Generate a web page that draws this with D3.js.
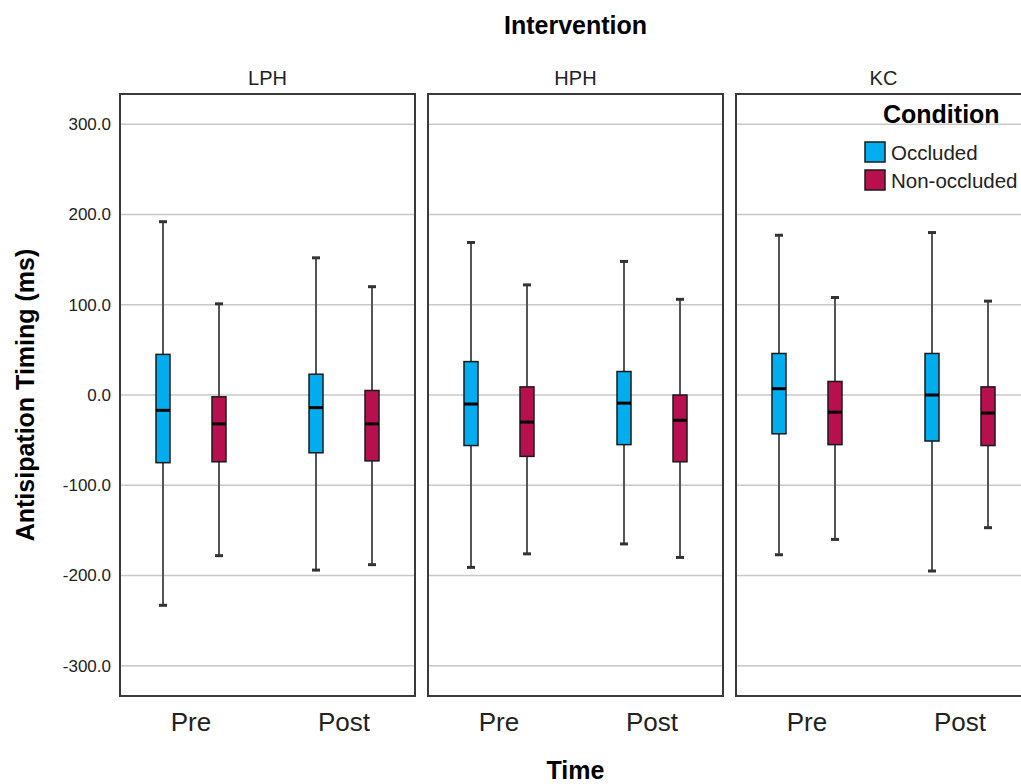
<!DOCTYPE html>
<html>
<head>
<meta charset="utf-8">
<script src="https://cdn.jsdelivr.net/npm/d3@7"></script>
<style>
  body { margin: 0; background: #fff; }
  svg { font-family: "Liberation Sans", Arial, sans-serif; }
</style>
</head>
<body>
<svg id="chart" width="1021" height="784"></svg>
<script>
// Facets, groups and series
const interventions = ["LPH", "HPH", "KC"];
const times = ["Pre", "Post"];
const conditions = ["Occluded", "Non-occluded"];
const yTicks = [-300, -200, -100, 0, 100, 200, 300];

// Box stats, ordered intervention > time > condition
const whiskerHigh = [192, 101, 152, 120, 169, 122, 148, 106, 177, 108, 180, 104];
const q3Values    = [45, -2, 23, 5, 37, 9, 26, 0, 46, 15, 46, 9];
const medians     = [-17, -32, -14, -32, -10, -30, -9, -28, 7, -19, 0, -20];
const q1Values    = [-75, -74, -64, -73, -56, -68, -55, -74, -43, -55, -51, -56];
const whiskerLow  = [-233, -178, -194, -188, -191, -176, -165, -180, -177, -160, -195, -147];

const boxes = [];
let k = 0;
interventions.forEach(iv => times.forEach(t => conditions.forEach(c => {
  boxes.push({
    intervention: iv, time: t, condition: c,
    hi: whiskerHigh[k], q3: q3Values[k], med: medians[k], q1: q1Values[k], lo: whiskerLow[k]
  });
  k++;
})));

const svg = d3.select("#chart");
const plotTop = 94, plotBottom = 696;

const facet = d3.scaleBand()
  .domain(interventions)
  .range([120, 1031])
  .paddingInner(0.0422)
  .paddingOuter(0);

const xTime = d3.scalePoint()
  .domain(times)
  .range([0, facet.bandwidth()])
  .padding(0.464);

const xCond = d3.scalePoint()
  .domain(conditions)
  .range([-28, 28]);

const y = d3.scaleLinear()
  .domain([-333.5, 333.5])
  .range([plotBottom, plotTop]);

const color = d3.scaleOrdinal()
  .domain(conditions)
  .range(["#00AEEF", "#B8104F"]);

const boxWidth = 14;

// Panels
const panels = svg.selectAll("g.panel")
  .data(interventions)
  .enter()
  .append("g")
  .attr("class", "panel")
  .attr("transform", d => `translate(${facet(d)}, 0)`);

panels.selectAll("line.grid")
  .data(yTicks)
  .enter()
  .append("line")
  .attr("class", "grid")
  .attr("x1", 0)
  .attr("x2", facet.bandwidth())
  .attr("y1", d => y(d))
  .attr("y2", d => y(d))
  .style("stroke", "#c8c8c8")
  .style("stroke-width", 1.6);

panels.append("rect")
  .attr("x", 0)
  .attr("y", plotTop)
  .attr("width", facet.bandwidth())
  .attr("height", plotBottom - plotTop)
  .style("fill", "none")
  .style("stroke", "#3a3a3a")
  .style("stroke-width", 2);

panels.append("text")
  .attr("x", facet.bandwidth() / 2)
  .attr("y", 85)
  .attr("text-anchor", "middle")
  .style("font-size", "20px")
  .style("fill", "#222")
  .text(d => d);

// Time tick labels under each panel
panels.selectAll("text.time")
  .data(times)
  .enter()
  .append("text")
  .attr("class", "time")
  .attr("x", d => xTime(d))
  .attr("y", 731)
  .attr("text-anchor", "middle")
  .style("font-size", "26px")
  .style("fill", "#222")
  .text(d => d);

// Boxes
const bx = d => facet(d.intervention) + xTime(d.time) + xCond(d.condition);
const boxG = svg.append("g").attr("id", "boxes")
  .selectAll("g")
  .data(boxes)
  .enter()
  .append("g");

boxG.append("line")
  .attr("x1", bx).attr("x2", bx)
  .attr("y1", d => y(d.hi)).attr("y2", d => y(d.lo))
  .style("stroke", "#555")
  .style("stroke-width", 2);

boxG.selectAll("line.cap")
  .data(d => [{x: bx(d), v: d.hi}, {x: bx(d), v: d.lo}])
  .enter()
  .append("line")
  .attr("class", "cap")
  .attr("x1", d => d.x - 4).attr("x2", d => d.x + 4)
  .attr("y1", d => y(d.v)).attr("y2", d => y(d.v))
  .style("stroke", "#333")
  .style("stroke-width", 3);

boxG.append("rect")
  .attr("x", d => bx(d) - boxWidth / 2)
  .attr("width", boxWidth)
  .attr("y", d => y(d.q3))
  .attr("height", d => y(d.q1) - y(d.q3))
  .style("fill", d => color(d.condition))
  .style("stroke", "#1a1a1a")
  .style("stroke-width", 1.5);

boxG.append("line")
  .attr("x1", d => bx(d) - boxWidth / 2).attr("x2", d => bx(d) + boxWidth / 2)
  .attr("y1", d => y(d.med)).attr("y2", d => y(d.med))
  .style("stroke", "#000")
  .style("stroke-width", 3);

// Y axis labels (plain hyphen for negatives, as in the original)
const yAxis = d3.axisLeft(y)
  .tickValues(yTicks)
  .tickSize(0)
  .tickPadding(9)
  .tickFormat(d => d.toFixed(1));

const yAxisG = svg.append("g")
  .attr("transform", `translate(120, 0)`)
  .call(yAxis);
yAxisG.select(".domain").remove();
yAxisG.selectAll("text")
  .style("font-size", "17px")
  .style("font-family", "'Liberation Sans', Arial, sans-serif")
  .style("fill", "#222");

// Titles
svg.append("text")
  .attr("x", 575.5).attr("y", 34)
  .attr("text-anchor", "middle")
  .style("font-size", "25px").style("font-weight", "bold")
  .text("Intervention");

svg.append("text")
  .attr("x", 575.5).attr("y", 779)
  .attr("text-anchor", "middle")
  .style("font-size", "25px").style("font-weight", "bold")
  .text("Time");

svg.append("text")
  .attr("transform", "translate(34, 395) rotate(-90)")
  .attr("text-anchor", "middle")
  .style("font-size", "25px").style("font-weight", "bold")
  .text("Antisipation Timing (ms)");

// Legend
const legend = svg.append("g").attr("transform", "translate(865, 0)");
legend.append("text")
  .attr("x", 18).attr("y", 123)
  .style("font-size", "25px").style("font-weight", "bold")
  .text("Condition");

const items = legend.selectAll("g.item")
  .data(conditions)
  .enter()
  .append("g")
  .attr("class", "item")
  .attr("transform", (d, i) => `translate(0, ${142 + i * 28})`);

items.append("rect")
  .attr("width", 20).attr("height", 20)
  .style("fill", d => color(d))
  .style("stroke", "#1a1a1a")
  .style("stroke-width", 1.5);

items.append("text")
  .attr("x", 26).attr("y", 18)
  .style("font-size", "20.5px")
  .style("fill", "#222")
  .text(d => d);
</script>
</body>
</html>
